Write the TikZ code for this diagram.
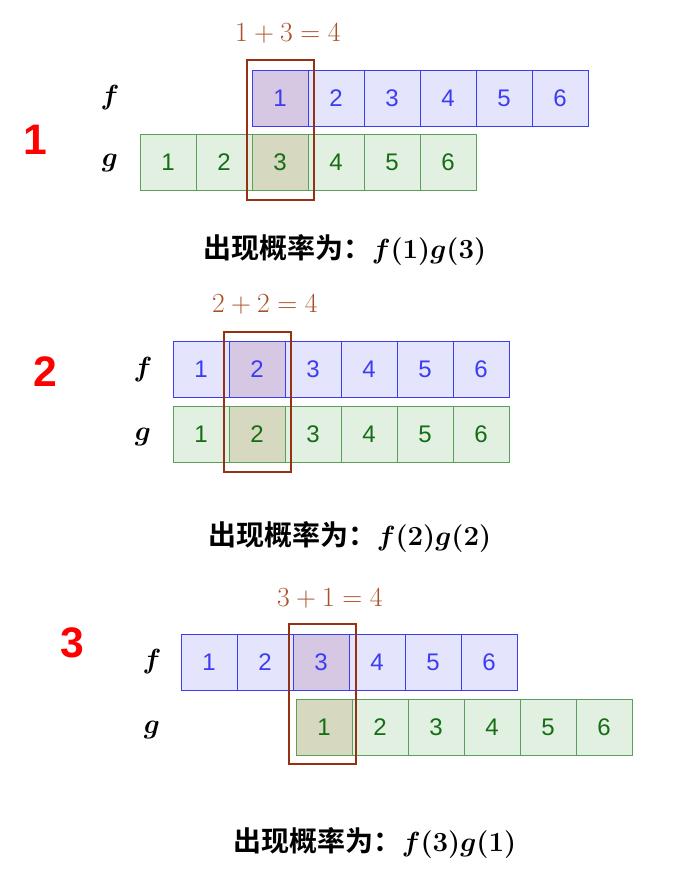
\documentclass[tikz,border=0pt]{standalone}
\usepackage{fontspec}
\usepackage{amsmath}
\newfontfamily\cjk{Noto Sans CJK SC}[BoldFont={Noto Sans CJK SC Bold}]
\newfontfamily\numf{Liberation Sans}
\definecolor{fb}{RGB}{60,60,240}
\definecolor{ffill}{RGB}{228,228,252}
\definecolor{gb}{RGB}{90,160,90}
\definecolor{gfill}{RGB}{226,240,226}
\definecolor{gt}{RGB}{20,110,20}
\definecolor{br}{RGB}{150,50,20}
\definecolor{brt}{RGB}{170,80,40}
\definecolor{fov}{RGB}{214,200,226}
\definecolor{gov}{RGB}{214,216,192}
\begin{document}
\begin{tikzpicture}[x=0.75pt,y=-0.75pt,
  fcell/.style={draw=fb,fill=ffill,minimum width=56*0.75pt,minimum height=56*0.75pt,inner sep=0,text=fb,font=\numf\fontsize{18}{20}\selectfont},
  gcell/.style={draw=gb,fill=gfill,minimum width=56*0.75pt,minimum height=56*0.75pt,inner sep=0,text=gt,font=\numf\fontsize{18}{20}\selectfont},
  hl/.style={draw=br,line width=1.5pt,minimum width=67*0.75pt,minimum height=140*0.75pt},
  sumlab/.style={text=brt,font=\fontsize{20}{24}\selectfont},
  fg/.style={font=\fontsize{20}{24}\selectfont\boldmath},
  big/.style={text=red,font=\numf\bfseries\fontsize{32}{36}\selectfont},
  captext/.style={font=\cjk\bfseries\fontsize{21}{26}\selectfont\boldmath}]
\useasboundingbox (0,0) rectangle (673,895);
% panel 1
\foreach \i in {1,...,6}{
  \node[fcell] (fa\i) at ({252+28+56*(\i-1)},98) {\i};
  \node[gcell] (ga\i) at ({140+28+56*(\i-1)},162) {\i};}
\node[fcell,fill=fov] (fa1o) at (fa1) {1};
\node[gcell,fill=gov] (ga3o) at (ga3) {3};
\node[hl] (ha) at (280.5,130) {};
\node[sumlab] (sa) at (288,33) {$1+3=4$};
\node[fg] (lfa) at (110,98) {$f$};
\node[fg] (lga) at (110,163) {$g$};
\node[big] (na) at (35,140) {1};
\node[captext] (ca) at (345,250) {出现概率为：$f(1)g(3)$};
% panel 2
\foreach \i in {1,...,6}{
  \node[fcell] (fb\i) at ({173+28+56*(\i-1)},369) {\i};
  \node[gcell] (gb\i) at ({173+28+56*(\i-1)},434) {\i};}
\node[fcell,fill=fov] (fb2o) at (fb2) {2};
\node[gcell,fill=gov] (gb2o) at (gb2) {2};
\node[hl] (hb) at (257,402) {};
\node[sumlab] (sb) at (265,304) {$2+2=4$};
\node[fg] (lfb) at (143,370) {$f$};
\node[fg] (lgb) at (143,437) {$g$};
\node[big] (nb) at (45,372) {2};
\node[captext] (cb) at (350,537) {出现概率为：$f(2)g(2)$};
% panel 3
\foreach \i in {1,...,6}{
  \node[fcell] (fc\i) at ({181+28+56*(\i-1)},662) {\i};
  \node[gcell] (gc\i) at ({296+28+56*(\i-1)},727) {\i};}
\node[fcell,fill=fov] (fc3o) at (fc3) {3};
\node[gcell,fill=gov] (gc1o) at (gc1) {1};
\node[hl] (hc) at (322.5,694) {};
\node[sumlab] (sc) at (330,598) {$3+1=4$};
\node[fg] (lfc) at (152,662) {$f$};
\node[fg] (lgc) at (152,730) {$g$};
\node[big] (nc) at (72,643) {3};
\node[captext] (cc) at (375,843) {出现概率为：$f(3)g(1)$};
\end{tikzpicture}
\end{document}
